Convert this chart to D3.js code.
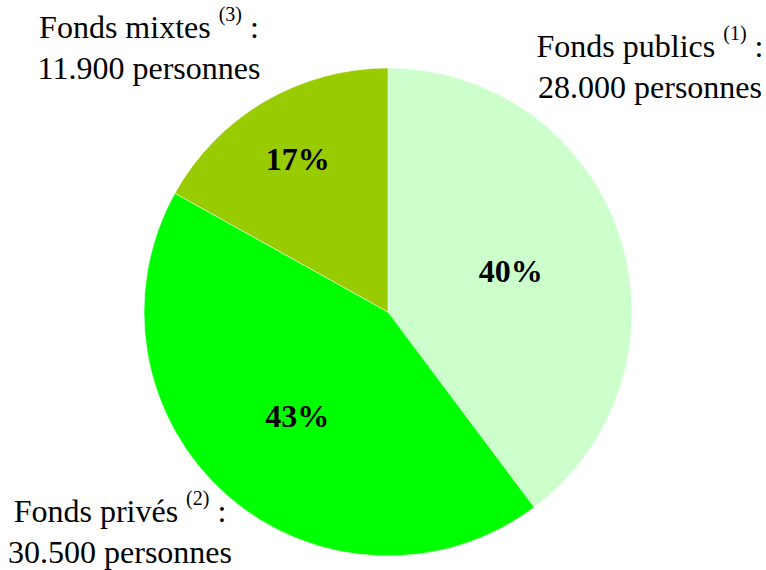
<!DOCTYPE html>
<html>
<head>
<meta charset="utf-8">
<script src="https://cdn.jsdelivr.net/npm/d3@7"></script>
<style>
  html, body { margin: 0; padding: 0; background: #ffffff; }
  svg { display: block; }
</style>
</head>
<body>
<svg id="chart" width="766" height="570"></svg>
<script>
// ---- data ----
const categories = ["Fonds publics", "Fonds privés", "Fonds mixtes"];
const notes = ["(1)", "(2)", "(3)"];
const values = [28000, 30500, 11900];
const valueLabels = ["28.000", "30.500", "11.900"];
const percentLabels = ["40%", "43%", "17%"];
const colors = ["#CCFFCC", "#00FF00", "#99CC00"];

// ---- layout ----
const W = 766, H = 570;
const cx = 388, cy = 312, R = 244;
const pctRadius = [0.53, 0.565, 0.73];
const labelAnchors = [
  { x: 650, y: 57 },
  { x: 120, y: 522 },
  { x: 149, y: 38 }
];
const lineGap = 41;

const svg = d3.select("#chart");
const g = svg.append("g").attr("transform", `translate(${cx},${cy})`);

const data = categories.map((c, i) => ({ name: c, value: values[i], i }));
const pie = d3.pie().value(d => d.value).sort(null).startAngle(0).endAngle(2 * Math.PI);
const arcs = pie(data);
const arc = d3.arc().innerRadius(0).outerRadius(R);

g.selectAll("path.slice")
  .data(arcs)
  .join("path")
  .attr("class", "slice")
  .attr("d", arc)
  .attr("fill", d => colors[d.data.i])
  .attr("stroke", "#ffffff")
  .attr("stroke-width", 0.5);

g.selectAll("text.pct")
  .data(arcs)
  .join("text")
  .attr("class", "pct")
  .each(function(d) {
    const r = R * pctRadius[d.data.i];
    const c = d3.arc().innerRadius(r).outerRadius(r).centroid(d);
    d3.select(this).attr("x", c[0]).attr("y", c[1]);
  })
  .attr("text-anchor", "middle")
  .attr("dy", "0.35em")
  .attr("font-family", "'Liberation Serif', 'Times New Roman', serif")
  .attr("font-weight", "bold")
  .attr("font-size", 32)
  .attr("fill", "#000")
  .text(d => percentLabels[d.data.i]);

const lab = svg.selectAll("g.lab")
  .data(data)
  .join("g")
  .attr("class", "lab")
  .attr("font-family", "'Liberation Serif', 'Times New Roman', serif")
  .attr("fill", "#000");

lab.each(function(d) {
  const a = labelAnchors[d.i];
  const t1 = d3.select(this).append("text")
    .attr("x", a.x).attr("y", a.y)
    .attr("text-anchor", "middle")
    .attr("font-size", 32);
  t1.append("tspan").text(d.name + " ");
  t1.append("tspan").attr("font-size", 20).attr("dy", -17).text(notes[d.i]);
  t1.append("tspan").attr("dy", 17).text(" :");
  d3.select(this).append("text")
    .attr("x", a.x).attr("y", a.y + lineGap)
    .attr("text-anchor", "middle")
    .attr("font-size", 32)
    .text(valueLabels[d.i] + " personnes");
});
</script>
</body>
</html>
